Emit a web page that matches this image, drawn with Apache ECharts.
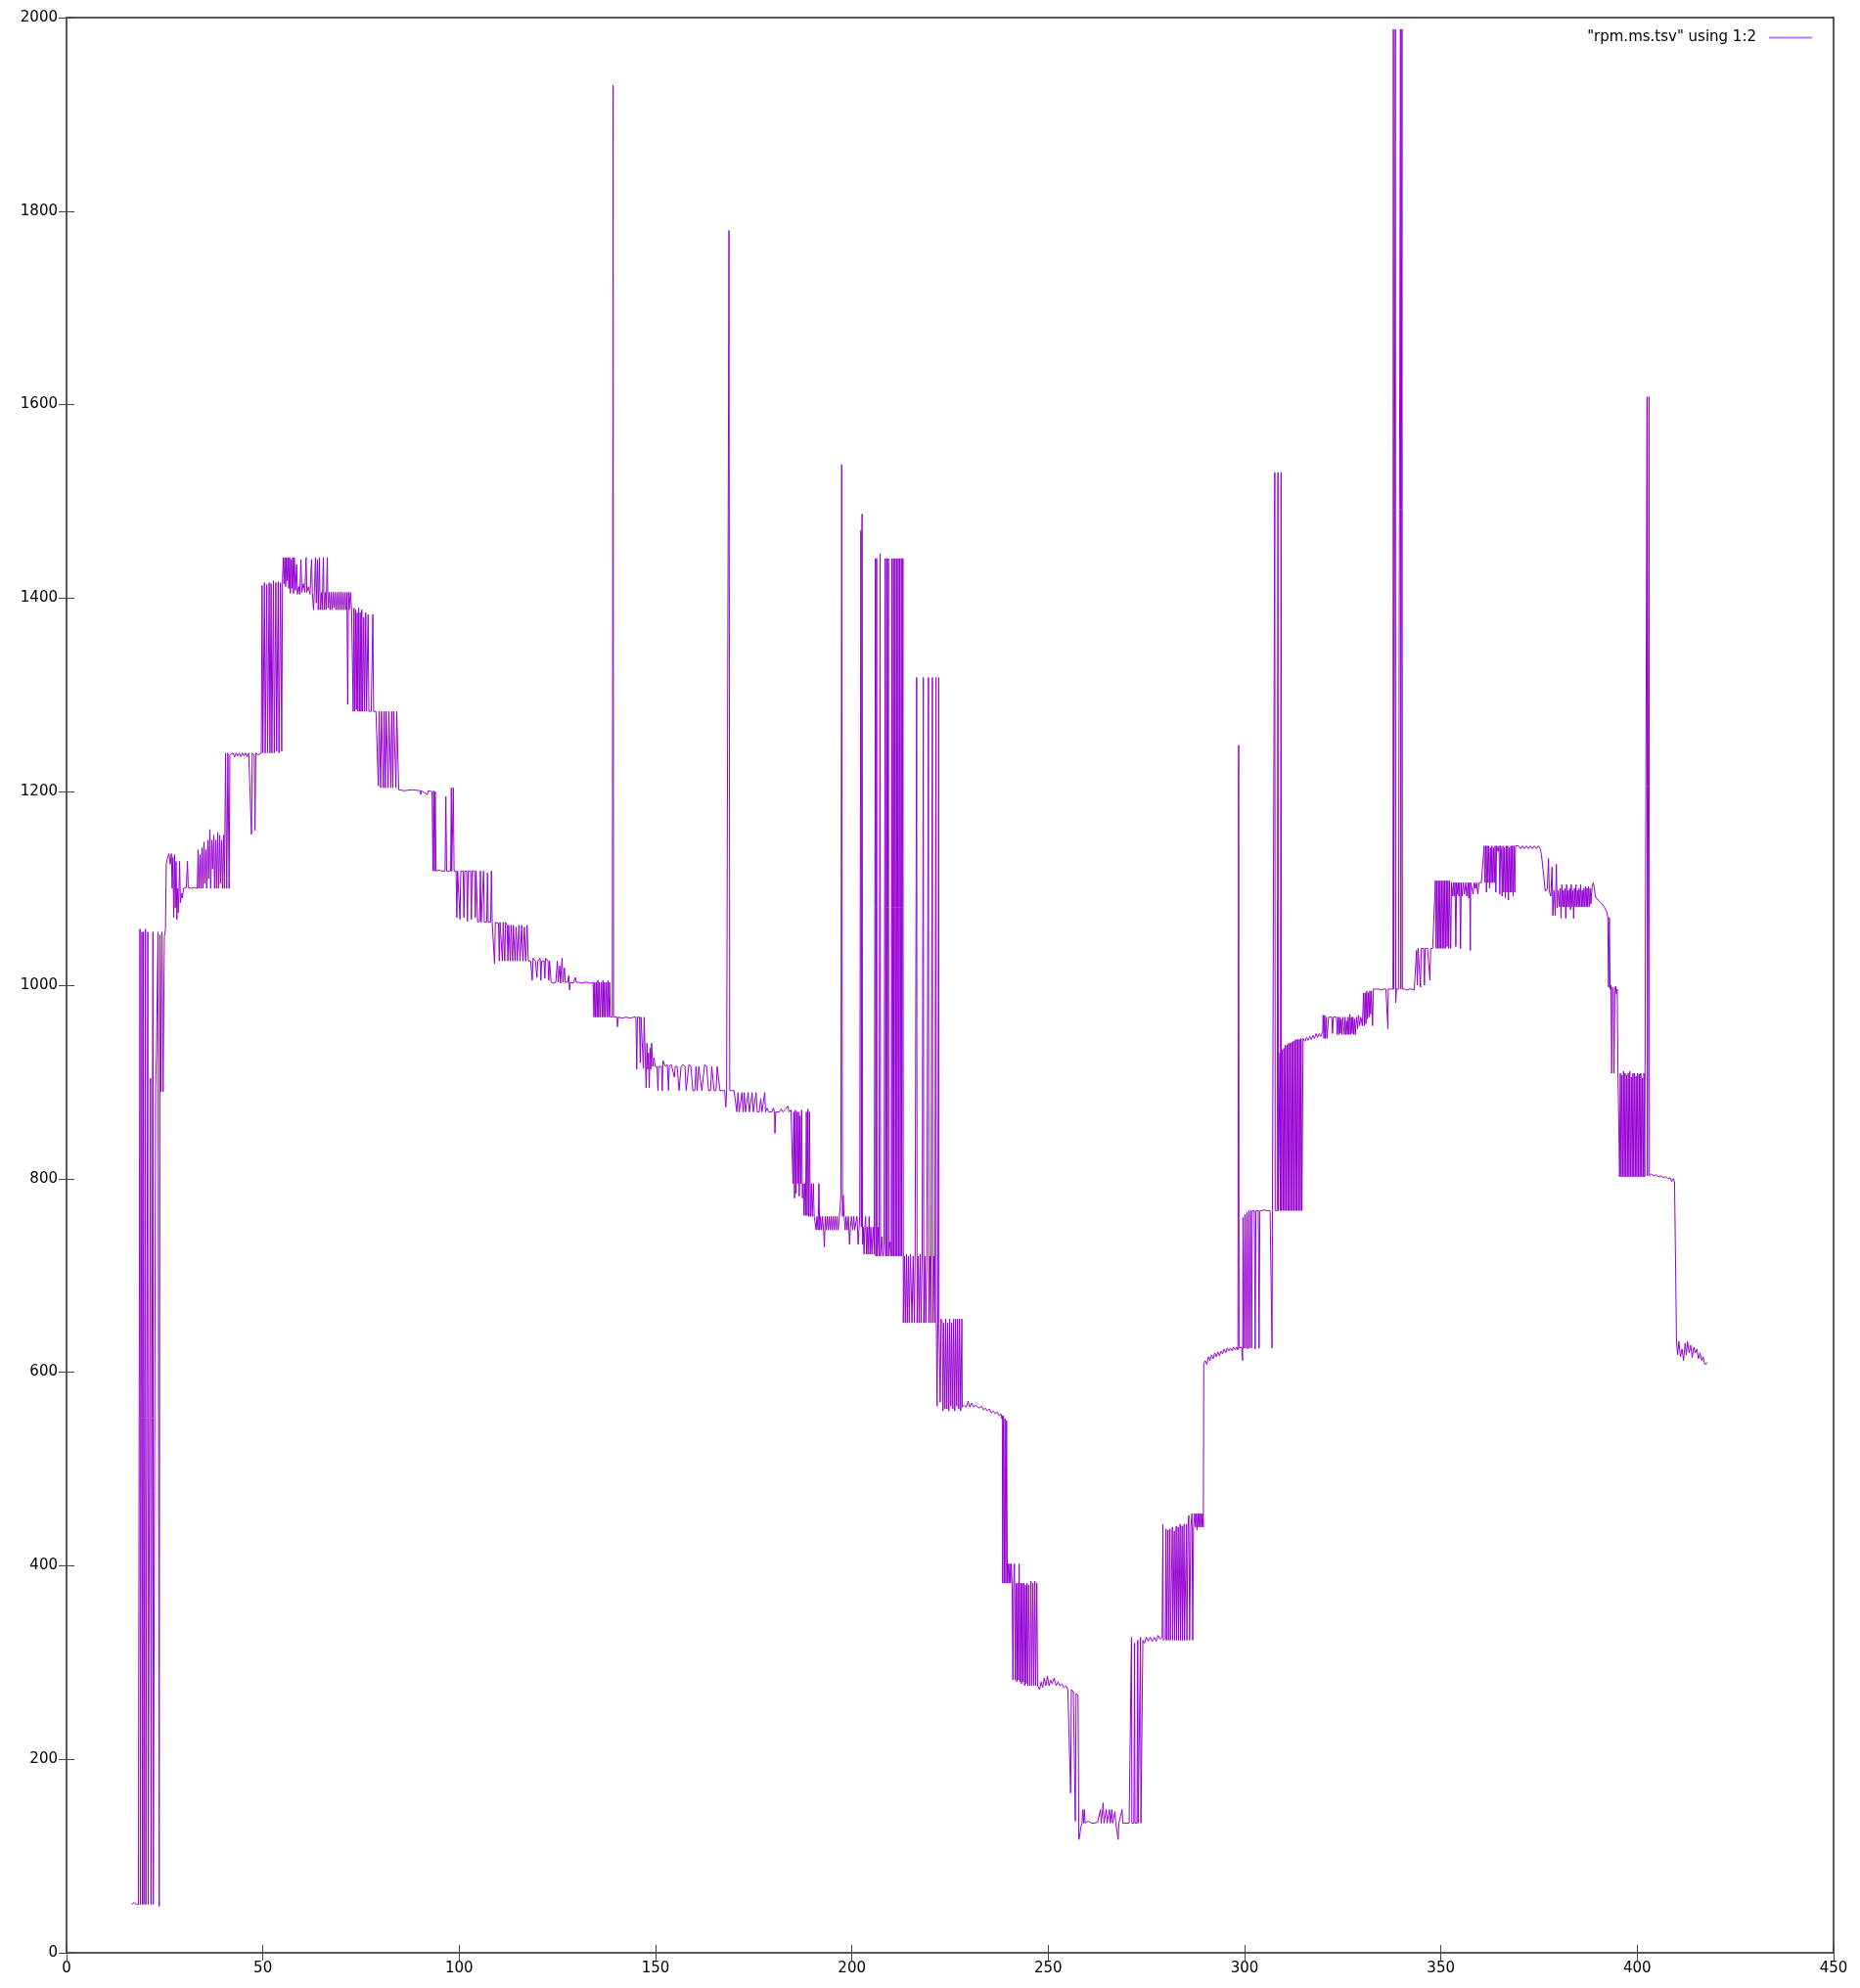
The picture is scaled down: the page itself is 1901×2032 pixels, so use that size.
<!DOCTYPE html>
<html>
<head>
<meta charset="utf-8">
<script src="https://cdn.jsdelivr.net/npm/echarts@6/dist/echarts.min.js"></script>
<style>
  html, body { margin: 0; padding: 0; background: #fff; }
  #chart { width: 1901px; height: 2032px; }
</style>
</head>
<body>
<div id="chart"></div>
<script>
// rpm.ms.tsv, column 1 = time, column 2 = rpm in pieces
var startup = [
  [16.6,50],[17.2,52],[17.8,50],[18.3,50],[18.6,50],[18.7,1058],[18.8,50],[19.1,50],[19.2,1055],[19.3,50],
  [19.6,1055],[19.7,50],[19.9,50],[20.1,1058],[20.2,50],[20.5,50],[20.7,1055],[20.8,50],[21.2,50],[21.4,904],
  [21.5,50],[21.9,50],[22.0,1055],[22.1,50],[22.5,50],[22.7,895],[22.9,930],[23.3,1055],[23.5,1055],[23.6,48],
  [23.7,48],[23.8,1052],[24.0,890],[24.3,1055],[24.6,890],[24.9,1050],[25.2,1058],[25.4,1125]
];
var climb = [
  [25.6,1130],[25.9,1128],[26.1,1136],[26.4,1125],[26.7,1136],[26.9,1100],[27.1,1132],[27.3,1070],[27.5,1135],[27.7,1080],
  [27.9,1128],[28.1,1068],[28.3,1100],[28.5,1075],[28.8,1128],[29.0,1085],[29.3,1095],[29.5,1090],[29.8,1100],[30.5,1101],
  [30.8,1128],[31.0,1101],[31.8,1100],[32.5,1101],[33.3,1100],
  [33.5,1140],[33.7,1100],[34.0,1135],[34.2,1100],[34.5,1142],[34.7,1100],[35.0,1148],[35.2,1105],[35.5,1140],[35.7,1100],
  [36.0,1150],[36.2,1110],[36.5,1161],[36.7,1100],[37.0,1150],[37.2,1120],[37.5,1155],[37.7,1100],[38.0,1150],[38.2,1100],
  [38.5,1158],[38.7,1100],[39.0,1155],[39.2,1105],[39.5,1150],[39.7,1100],[40.0,1155],[40.2,1100],[40.5,1240],[40.8,1100],
  [41.1,1240],[41.4,1100],[41.6,1238],
  [42.0,1236],[42.4,1240],[42.8,1236],[43.2,1240],[43.6,1237],[44.0,1240],[44.4,1236],[44.8,1240],[45.2,1237],[45.6,1240],
  [46.0,1236],[46.4,1240],[46.8,1238],[47.1,1156],[47.3,1240],[47.8,1238],[48.0,1160],[48.2,1240],[48.8,1238],[49.2,1240],
  [49.6,1240],[49.8,1413],[50.0,1240],[50.4,1416],[50.6,1240],[51.0,1414],[51.2,1240],[51.6,1416],[51.8,1240],[52.1,1415],
  [52.3,1240],[52.7,1418],[52.9,1240],[53.3,1416],[53.5,1242],[53.9,1417],[54.1,1240],[54.5,1416],[54.8,1242],[55.0,1420]
];
var peak = [
  [55.2,1442],[55.4,1415],[55.6,1442],[55.8,1412],[56.0,1442],[56.2,1418],[56.4,1442],[56.6,1410],[56.8,1442],[57.0,1405],
  [57.2,1440],[57.4,1410],[57.6,1442],[57.8,1405],[58.0,1442],[58.3,1408],[58.6,1435],[58.8,1404],[59.1,1412],[59.4,1404],
  [59.7,1440],[59.9,1406],[60.3,1415],[60.7,1406],[61.0,1442],[61.2,1406],[61.6,1412],[62.0,1404],[62.4,1440],[62.6,1406],
  [62.9,1388],[63.1,1406],[63.4,1442],[63.6,1395],[63.9,1440],[64.1,1388],[64.4,1442],[64.6,1388],[64.9,1406],[65.1,1388],
  [65.4,1442],[65.6,1388],[65.9,1406],[66.1,1388],[66.4,1442],[66.6,1390],[66.9,1406],[67.1,1388],[67.4,1406],[67.6,1388],
  [67.9,1406],[68.1,1390],[68.4,1406],[68.6,1388],[68.9,1406],[69.1,1388],[69.4,1406],[69.6,1388],[69.9,1406],[70.1,1388],
  [70.4,1406],[70.6,1388],[70.9,1406],[71.1,1388],[71.4,1406],[71.6,1290],[71.8,1406],[72.0,1388],[72.3,1406],[72.6,1388],
  [72.8,1390],[73.0,1283],[73.2,1390],[73.4,1283],[73.6,1388],[73.8,1285],[74.0,1385],[74.2,1283],[74.4,1390],[74.6,1283],
  [74.8,1385],[75.0,1283],[75.2,1388],[75.4,1283],[75.7,1380],[75.9,1283],[76.2,1385],[76.4,1283],[76.8,1383],[77.0,1283],
  [77.6,1283],[78.0,1383],[78.2,1283],[78.8,1283],[79.2,1285],[79.4,1206],[79.6,1283],[80.0,1204],[80.2,1283],[80.5,1283],
  [80.7,1204],[80.9,1283],[81.2,1204],[81.4,1283],[81.7,1283],[81.9,1204],[82.1,1283],[82.4,1285],[82.6,1204],[82.8,1283],
  [83.1,1204],[83.3,1283],[83.7,1285],[83.9,1204],[84.1,1283],[84.4,1283],[84.6,1202]
];
var slope = [
  [86,1201],[88,1202],[90,1201],[90.2,1197],[90.4,1201],[91.9,1197],[92.1,1201],[93.1,1200],[93.3,1118],[93.5,1201],
  [93.7,1118],[93.9,1200],[94.1,1118],[94.5,1118],[95,1119],[95.5,1118],[96.4,1118],[96.6,1195],[96.8,1118],[97.8,1118],
  [98.0,1204],[98.1,1118],[98.5,1204],[98.7,1118],[99.2,1118],[99.4,1070],[99.6,1118],[100.0,1118],[100.2,1068],[100.4,1118],
  [101.0,1118],[101.2,1070],[101.4,1118],[101.9,1118],[102.1,1066],[102.3,1118],[102.9,1118],[103.1,1068],[103.3,1118],[103.9,1118],
  [104.1,1070],[104.3,1118],[104.6,1118],[104.7,1065],[105.2,1066],[105.4,1118],[105.6,1065],[106.0,1065],[106.2,1118],[106.4,1065],
  [107.0,1065],[107.2,1116],[107.4,1065],[108.0,1065],[108.2,1118],[108.4,1065],[108.8,1065],[109.0,1022],[109.2,1065],[110.0,1064],
  [110.2,1025],[110.4,1065],[110.8,1065],[111.0,1025],[111.2,1065],[111.6,1025],[111.8,1065],[112.2,1062],[112.4,1025],[112.6,1062],
  [113.0,1025],[113.2,1062],[113.6,1025],[113.8,1062],[114.2,1025],[114.5,1060],[114.8,1025],[115.2,1062],[115.5,1025],[115.9,1062],
  [116.2,1025],[116.6,1060],[116.9,1025],[117.3,1062],[117.6,1025],[118.2,1025],[118.6,1005],[118.8,1028],[119.4,1025],[119.8,1008],
  [120.0,1025],[120.6,1028],[120.8,1005],[121.0,1025],[121.6,1025],[121.8,1007],[122.0,1028],[122.6,1025],[122.8,1005],[123.0,1025],
  [123.4,1003],[124.0,1002],[124.6,1003],[125.0,1025],[125.2,1003],[125.6,1020],[125.8,1002],[126.2,1028],[126.4,1003],[126.8,1018],
  [127.0,1003],[127.6,1003],[127.9,1010],[128.1,995],[128.3,1003],[129.0,1002],[129.6,1008],[129.8,1003],[130.5,1003],[131.2,1002],
  [132.0,1003],[132.8,1003],[133.5,1002],[134.1,1003],[134.3,967],[134.5,1003],[134.7,967],[134.9,1003],[135.1,967],[135.3,1005],
  [135.5,967],[135.7,1003],[135.9,967],[136.2,1003],[136.4,967],[136.6,1005],[136.8,967],[137.0,1003],[137.2,967],[137.5,1003],
  [137.7,967],[137.9,1005],[138.1,967],[138.3,1003],[138.5,967],[139.0,967],[139.2,1930],[139.3,967],[139.6,967],[140.2,967],
  [140.3,957],[140.5,967],[141.5,966],[142.5,967],[143.5,966],[144.5,967],[145.0,967],[145.2,913],[145.4,967],[145.9,967],
  [146.1,920],[146.3,967],[146.7,967],[146.9,914],[147.1,967],[147.4,965],[147.6,894],[147.8,940],[148.0,913],[148.2,930],
  [148.4,894],[148.6,935],[148.8,913],[149.0,940],[149.3,916],[149.6,925],[149.9,916]
];
var plain = [
  [150.4,916],[150.6,891],[150.8,916],[151.5,916],[151.7,891],[151.9,922],[152.5,916],[153.0,918],[153.3,891],[153.5,916],
  [154.0,918],[154.4,916],[154.8,905],[155.0,916],[155.5,916],[156.0,891],[156.2,891],[156.5,916],[157.0,918],[157.5,916],
  [157.8,891],[158.2,891],[158.5,918],[159.0,916],[159.5,891],[160.0,891],[160.3,916],[160.6,891],[161.0,916],[161.4,916],
  [161.8,891],[162.2,891],[162.5,918],[163.0,916],[163.5,891],[164.0,891],[164.3,916],[164.6,918],[164.9,891],[165.4,891],
  [165.7,916],[166.1,918],[166.4,891],[167.0,891],[167.6,891],[167.9,874],[168.1,891],[168.5,891],[168.7,1780],[168.9,891],
  [169.3,891],[170.0,891],[170.4,891],[170.7,869],[171.0,889],[171.3,869],[171.7,869],[172.0,889],[172.3,869],[172.6,889],
  [172.9,869],[173.3,869],[173.6,889],[173.9,869],[174.3,871],[174.6,889],[174.9,869],[175.3,870],[175.6,889],[175.9,869],
  [176.4,869],[176.8,883],[177.1,869],[177.5,871],[177.8,889],[178.0,869],[178.4,873],[178.8,869],[179.2,871],[179.6,869],
  [180.0,873],[180.3,869],[180.4,847],[180.6,869],[181.0,871],[181.5,869],[182.0,872],[182.4,869],[182.9,871],[183.3,869],
  [183.7,875],[184.0,869],[184.5,871],[184.9,869],[185.0,795],[185.2,869],[185.4,780],[185.6,871],[185.8,785],[186.0,869],
  [186.2,795],[186.4,869],[186.6,782],[186.8,865],[187.0,795],[187.2,871],[187.4,780],[187.6,795],[187.8,762],[188.0,795],
  [188.2,762],[188.4,869],[188.6,762],[188.8,872],[189.0,761],[189.2,869],[189.4,761],[189.7,795],[189.9,761],[190.2,795],
  [190.4,761],[190.7,761],[190.9,747],[191.1,761],[191.4,747],[191.6,795],[191.8,747],[192.0,761],[192.3,747],[192.5,761],
  [192.8,747],[193.0,729],[193.2,761],[193.5,747],[193.7,761],[194.0,747],[194.2,761],[194.5,747],[194.7,761],[195.0,747],
  [195.2,761],[195.5,747],[195.7,761],[196.0,747],[196.2,761],[196.5,747],[196.8,761],[197.0,770],[197.2,783],[197.4,1538],
  [197.6,761],[197.8,783],[198.0,761],[198.3,747],[198.5,761],[198.8,747],[199.1,761],[199.4,732],[199.6,747],[199.9,761],
  [200.2,747],[200.5,761],[200.7,747],[201.0,745],[201.3,761]
];
var spikes = [
  [201.6,732],[201.8,747],[202.0,761],[202.3,1470],[202.4,750],[202.6,1487],[202.7,732],[202.9,750],[203.1,722],[203.3,750],
  [203.5,761],[203.7,722],[203.9,750],[204.1,722],[204.4,761],[204.6,722],[204.8,750],[205.1,722],[205.4,750],[205.7,722],
  [206.0,1441],[206.1,720],[206.3,1441],[206.4,720],[206.7,750],[206.9,720],[207.2,1446],[207.3,720],[207.6,740],[207.9,720],
  [208.2,735],[208.5,1441],[208.6,720],[208.9,1441],[209.0,720],[209.3,1441],[209.4,720],[209.7,735],[210.0,720],[210.2,1441],
  [210.3,720],[210.6,1441],[210.7,720],[211.0,1441],[211.1,720],[211.4,1441],[211.5,720],[211.8,1441],[211.9,720],[212.2,1441],
  [212.3,720],[212.6,1441],[212.7,720],[213.0,1441],[213.1,651],[213.4,720],[213.6,651],[213.9,722],[214.1,651],[214.4,720],
  [214.6,651],[214.9,722],[215.1,720],[215.3,651],[215.6,720],[215.9,651],[216.1,720],[216.5,1318],[216.6,651],[216.9,720],
  [217.1,651],[217.4,722],[217.6,651],[217.9,720],[218.2,1318],[218.3,651],[218.6,720],[218.8,651],[219.1,720],[219.5,1318],
  [219.6,651],[219.9,720],[220.1,651],[220.5,1318],[220.6,651],[220.9,720],[221.1,651],[221.4,1318],[221.5,651],[221.7,565],
  [221.9,651],[222.1,1318],[222.2,651],[222.5,569],[222.7,655],[223.0,651],[223.2,560],[223.4,651],[223.7,562],[223.9,655],
  [224.2,562],[224.4,651],[224.7,560],[224.9,655],[225.2,565],[225.4,651],[225.7,562],[225.9,655],[226.2,560],[226.4,655],
  [226.7,565],[226.9,655],[227.2,562],[227.4,655],[227.7,560],[228.0,655],[228.1,564]
];
var trough = [
  [228.6,566],[229.1,564],[229.6,570],[230.0,564],[230.5,568],[231.0,564],[231.5,566],[232.0,564],[232.5,563],[233.0,565],
  [233.5,561],[234.0,563],[234.5,560],[235.0,562],[235.5,558],[236.0,560],[236.5,557],[237.0,559],[237.5,555],[238.0,557],
  [238.2,552],[238.3,555],[238.4,382],[238.6,555],[238.8,382],[239.0,552],[239.2,382],[239.4,550],[239.6,382],[239.8,402],
  [240.0,382],[240.2,402],[240.4,382],[240.6,402],[240.8,382],[241.0,282],[241.2,382],[241.4,402],[241.6,282],[241.8,382],
  [242.0,280],[242.2,382],[242.4,282],[242.6,402],[242.8,280],[243.0,382],[243.2,278],[243.4,382],[243.6,280],[243.8,382],
  [244.0,276],[244.2,380],[244.4,278],[244.6,382],[244.8,276],[245.0,380],[245.3,276],[245.6,384],[245.8,276],[246.1,382],
  [246.3,276],[246.6,384],[246.8,276],[247.1,382],[247.3,276],[247.8,272],[248.2,280],[248.6,274],[249.0,284],[249.4,276],
  [249.8,286],[250.2,276],[250.6,282],[251.0,278],[251.5,284],[252.0,276],[252.5,280],[253.0,276],[253.5,278],[254.0,274],
  [254.5,276],[255.0,272],[255.4,274],[255.7,165],[255.9,272],[256.4,270],[256.8,268],[256.9,136],[257.1,268],[257.6,266],
  [257.8,117],[258.0,120],[258.3,130],[258.6,134],[258.8,148],[259.0,134],[259.2,148],[259.4,134],[259.8,134],[260.2,136],
  [260.6,134],[261.0,134],[261.4,136],[261.8,134],[262.2,134],[262.6,135],[263.0,134],[263.3,148],[263.5,134],[263.8,134],
  [264.0,155],[264.2,134],[264.6,134],[264.8,148],[265.0,134],[265.4,134],[265.6,148],[265.8,134],[266.2,148],[266.4,134],
  [266.8,134],[267.0,146],[267.2,134],[267.6,134],[267.8,117],[268.0,134],[268.4,134],[268.8,148],[269.0,134],[269.4,134],
  [269.8,134],[270.2,134],[270.6,134],[271.0,134],[271.2,326],[271.3,134],[271.8,134],[272.0,320],[272.1,134],[272.6,134],
  [272.8,323],[272.9,134],[273.3,134],[273.5,326],[273.6,134],[273.9,134],[274.1,323]
];
var recovery = [
  [274.5,320],[275.0,326],[275.5,322],[276.0,326],[276.5,322],[277.0,326],[277.5,322],[278.0,328],[278.5,324],[279.0,326],
  [279.2,443],[279.3,323],[279.8,325],[280.0,438],[280.1,323],[280.5,437],[280.6,323],[281.0,438],[281.1,323],[281.6,440],
  [281.7,323],[282.1,436],[282.2,323],[282.6,441],[282.7,323],[283.1,440],[283.2,323],[283.6,443],[283.7,323],[284.1,441],
  [284.2,323],[284.6,443],[284.7,323],[285.2,443],[285.3,323],[285.6,440],[285.8,452],[286.0,323],[286.3,440],[286.6,454],
  [286.8,323],[287.0,440],[287.3,454],[287.5,440],[287.7,454],[287.9,437],[288.1,454],[288.3,440],[288.5,454],[288.7,440],
  [288.9,454],[289.1,440],[289.3,454],[289.5,440],[289.6,609],[290.0,612],[290.4,608],[290.8,616],[291.2,612],[291.6,618],
  [292.0,614],[292.4,620],[292.8,616],[293.2,621],[293.6,617],[294.0,622],[294.4,619],[294.8,624],[295.2,620],[295.6,625],
  [296.0,622],[296.4,625],[296.8,622],[297.2,626],[297.6,623],[298.0,626],[298.3,623],[298.5,1248],[298.6,625],[298.9,626],
  [299.3,626],[299.5,612],[299.6,760],[299.8,625],[300.1,763],[300.3,625],[300.6,765],[300.8,624],[301.1,767],[301.3,625],
  [301.6,767],[301.8,625],[302.0,767],[302.5,767],[302.7,624],[302.9,767],[303.5,767],[303.7,625],[303.9,767],[304.5,767],
  [305.0,768],[305.5,767],[306.0,767],[306.5,767],[306.9,767],[307.0,625],[307.1,767],[307.5,767],[307.7,1530],[307.8,767],
  [308.3,767],[308.5,1530],[308.6,767],[309.0,930],[309.1,767],[309.3,1530],[309.4,767],[309.6,933],[309.8,767],[310.0,935],
  [310.2,767],[310.4,938],[310.6,767],[310.8,938],[311.0,767],[311.2,940],[311.4,767],[311.6,940],[311.8,767],[312.0,941],
  [312.2,767],[312.4,942],[312.6,767],[312.8,943],[313.0,767],[313.2,944],[313.4,767],[313.6,944],[313.8,767],[314.0,944],
  [314.2,767],[314.4,945],[314.6,767],[314.9,945]
];
var climb2 = [
  [315.4,942],[315.8,946],[316.2,943],[316.6,947],[317.0,944],[317.4,948],[317.8,945],[318.2,950],[318.6,946],[319.0,950],
  [319.4,947],[319.9,952],[320.0,969],[320.2,945],[320.4,969],[320.6,945],[320.8,967],[321.0,945],[321.4,967],[321.8,967],
  [322.2,967],[322.4,950],[322.6,967],[323.0,965],[323.4,967],[323.6,949],[323.8,967],[324.0,949],[324.2,967],[324.4,950],
  [324.6,965],[324.8,949],[325.0,967],[325.4,949],[325.6,967],[325.8,949],[326.0,963],[326.2,949],[326.4,967],[326.6,949],
  [326.8,970],[327.0,949],[327.2,967],[327.4,950],[327.6,967],[327.8,949],[328.0,965],[328.2,949],[328.5,967],[328.8,955],
  [329.0,969],[329.3,958],[329.6,967],[330.0,958],[330.3,992],[330.5,958],[330.7,992],[330.9,960],[331.1,994],[331.3,965],
  [331.5,992],[331.7,967],[331.9,994],[332.1,970],[332.3,994],[332.6,958],[332.8,996],[333.2,994],[333.6,996],[334.2,996],
  [334.8,995],[335.4,996],[336.0,996],[336.4,996],[336.5,955],[336.6,996],[337.2,996],[337.8,996],[337.9,1988],[338.0,996],
  [338.3,996],[338.4,1988],[338.5,982],[338.7,996],[339.2,996],[339.7,1988],[339.8,996],[340.1,1988],[340.2,996],[340.8,996],
  [341.4,995],[342.0,996],[342.6,996],[343.2,995],[343.6,996],[343.8,1036],[344.0,1000],[344.2,1038],[344.6,1038],[344.8,998],
  [345.0,1038],[345.6,1038],[345.8,1000],[346.0,1038],[346.6,1038],[347.0,1038],[347.2,1005],[347.4,1038],[347.9,1038],[348.3,1038],
  [348.6,1108],[348.8,1038],[349.0,1108],[349.2,1038],[349.4,1108],[349.6,1038],[349.8,1108],[350.0,1038],[350.2,1108],[350.4,1038],
  [350.6,1108],[350.8,1038],[351.0,1108],[351.2,1038],[351.4,1108],[351.6,1040],[351.8,1108],[352.0,1038],[352.2,1108],[352.5,1038],
  [352.7,1106]
];
var plateau = [
  [353.0,1092],[353.2,1106],[353.4,1092],[353.6,1106],[353.8,1040],[354.0,1106],[354.2,1094],[354.4,1106],[354.6,1092],[354.8,1106],
  [355.0,1038],[355.2,1106],[355.4,1092],[355.7,1106],[356.0,1094],[356.3,1106],[356.6,1092],[356.9,1106],[357.1,1090],[357.3,1106],
  [357.5,1036],[357.6,1106],[357.9,1106],[358.2,1094],[358.5,1106],[358.8,1100],[359.1,1106],[359.4,1094],[359.7,1106],[360.0,1106],
  [360.3,1106],[360.6,1106],[361.0,1144],[361.2,1106],[361.4,1144],[361.6,1096],[361.8,1144],[362.0,1106],[362.2,1144],[362.4,1100],
  [362.6,1142],[362.8,1106],[363.0,1144],[363.2,1106],[363.4,1142],[363.6,1106],[363.8,1144],[364.0,1096],[364.2,1144],[364.4,1144],
  [364.6,1138],[364.8,1144],[365.0,1094],[365.2,1144],[365.4,1140],[365.6,1092],[365.8,1144],[366.0,1096],[366.2,1142],[366.4,1090],
  [366.6,1144],[366.8,1096],[367.0,1144],[367.2,1088],[367.4,1142],[367.6,1096],[367.8,1144],[368.0,1096],[368.2,1144],[368.4,1092],
  [368.6,1144],[368.8,1096],[369.0,1144],[369.3,1142],[369.8,1144],[370.3,1141],[370.8,1144],[371.3,1141],[371.8,1144],[372.3,1141],
  [372.8,1144],[373.3,1141],[373.8,1144],[374.3,1141],[374.8,1144],[375.3,1141],[375.6,1135],[376.0,1120],[376.3,1118],[376.6,1097],
  [376.9,1096],[377.1,1100],[377.4,1131],[377.6,1097],[378.0,1092],[378.3,1122],[378.5,1072],[378.8,1098],[379.1,1072],[379.4,1125],
  [379.6,1080],[379.9,1098],[380.2,1081],[380.4,1100],[380.6,1069],[380.8,1104],[381.0,1081],[381.2,1098],[381.4,1081],[381.6,1100],
  [381.8,1069],[382.0,1104],[382.2,1081],[382.4,1098],[382.6,1081],[382.8,1100],[383.0,1078],[383.2,1104],[383.4,1081],[383.6,1098],
  [383.8,1069],[384.0,1100],[384.2,1081],[384.4,1104],[384.6,1081],[384.8,1098],[385.0,1081],[385.2,1100],[385.4,1081],[385.6,1104],
  [385.8,1081],[386.0,1098],[386.2,1081],[386.4,1100],[386.6,1081],[386.8,1102],[387.0,1081],[387.2,1100],[387.4,1081],[387.6,1102],
  [387.8,1081],[388.0,1100],[388.2,1084],[388.5,1102],[388.8,1106],[389.1,1100],[389.3,1092],[389.6,1094],[390.0,1088],[390.4,1090],
  [390.8,1085],[391.2,1086],[391.6,1081],[392.0,1080],[392.3,1075],[392.5,1070]
];
var rundown = [
  [392.7,998],[392.9,1070],[393.1,996],[393.3,1000],[393.5,909],[393.7,998],[393.9,993],[394.1,909],[394.3,996],[394.5,999],
  [394.7,991],[394.9,996],[395.1,909],[395.3,911],[395.5,802],[395.7,909],[395.9,802],[396.1,907],[396.3,802],[396.5,911],
  [396.7,802],[396.9,909],[397.1,802],[397.3,907],[397.5,802],[397.7,909],[397.9,802],[398.1,911],[398.3,802],[398.5,905],
  [398.7,802],[398.9,909],[399.1,802],[399.3,909],[399.5,802],[399.7,906],[399.9,802],[400.1,909],[400.3,802],[400.5,908],
  [400.7,802],[400.9,909],[401.1,802],[401.3,904],[401.5,802],[401.7,909],[401.9,802],[402.1,802],[402.5,1608],[402.6,803],
  [403.0,1608],[403.1,803],[403.6,805],[404.2,803],[404.8,804],[405.4,802],[406.0,803],[406.6,801],[407.2,802],[407.8,800],
  [408.4,801],[408.8,797],[409.2,800],[409.5,797],[409.8,795],[410.0,632],[410.3,618],[410.6,632],[411.0,616],[411.4,624],
  [411.8,612],[412.2,630],[412.5,618],[412.8,632],[413.2,620],[413.6,628],[414.0,615],[414.4,626],[414.8,620],[415.2,624],
  [415.6,614],[416.0,620],[416.4,612],[416.8,616],[417.2,608],[417.6,610],[417.9,610]
];

var seriesName = '"rpm.ms.tsv" using 1:2';
var xTicks = { min: 0, max: 450, step: 50 };
var yTicks = { min: 0, max: 2000, step: 200 };

var points = [].concat(startup, climb, peak, slope, plain, spikes, trough, recovery, climb2, plateau, rundown);

var myChart = echarts.init(document.getElementById('chart'));
var font = 'DejaVu Sans';
function axis(pos, ticks, labels) {
  return {
    type: 'value',
    position: pos,
    min: ticks.min,
    max: ticks.max,
    interval: ticks.step,
    splitLine: { show: false },
    axisLine: { show: false },
    axisTick: { show: true, inside: true, length: 8, lineStyle: { color: '#444', width: 1 } },
    axisLabel: {
      show: labels, color: '#000', fontFamily: font, fontSize: 15, margin: 9,
      formatter: function (v) { return String(v); }
    }
  };
}
var option = {
  animation: false,
  backgroundColor: '#fff',
  grid: {
    left: 68, right: 27, top: 18, bottom: 36,
    show: true, borderColor: '#222', borderWidth: 1.5, backgroundColor: 'transparent'
  },
  legend: {
    right: 44,
    top: 26,
    align: 'right',
    icon: 'rect',
    itemWidth: 44,
    itemHeight: 2,
    textStyle: { color: '#000', fontFamily: font, fontSize: 15, padding: [0, 8, 0, 0] },
    itemStyle: { color: '#c27ded' },
    data: [seriesName]
  },
  xAxis: [axis('bottom', xTicks, true), axis('top', xTicks, false)],
  yAxis: [axis('left', yTicks, true), axis('right', yTicks, false)],
  series: [
    {
      name: seriesName,
      type: 'line',
      xAxisIndex: 0,
      yAxisIndex: 0,
      data: points,
      showSymbol: false,
      symbol: 'none',
      lineStyle: { color: '#9400d3', width: 1 },
      itemStyle: { color: '#9400d3' }
    }
  ]
};
myChart.setOption(option);
</script>
</body>
</html>
